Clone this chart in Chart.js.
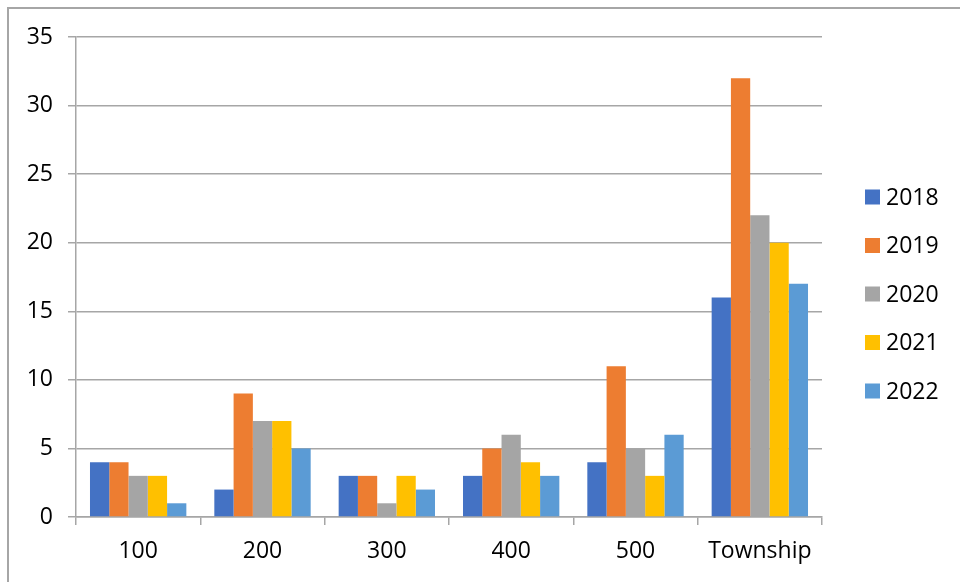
<!DOCTYPE html>
<html>
<head>
<meta charset="utf-8">
<script src="https://cdn.jsdelivr.net/npm/chart.js@4/dist/chart.umd.min.js"></script>
<style>
  html, body { margin: 0; padding: 0; background: #fff; }
  #wrap { position: relative; width: 960px; height: 582px; overflow: hidden; }
  #frame { position: absolute; left: 7px; top: 7px; width: 1000px; height: 1000px;
           border-left: 2px solid #a6a6a6; border-top: 2px solid #a6a6a6; box-sizing: border-box; }
  canvas { position: absolute; left: 0; top: 0; }
</style>
</head>
<body>
<div id="wrap">
  <div id="frame"></div>
  <canvas id="chart" width="960" height="582"></canvas>
</div>
<script>
// Data
const categories = ['100', '200', '300', '400', '500', 'Township'];
const years = ['2018', '2019', '2020', '2021', '2022'];
const values2018 = [4, 2, 3, 3, 4, 16];
const values2019 = [4, 9, 3, 5, 11, 32];
const values2020 = [3, 7, 1, 6, 5, 22];
const values2021 = [3, 7, 3, 4, 3, 20];
const values2022 = [1, 5, 2, 3, 6, 17];
const yTicks = [0, 5, 10, 15, 20, 25, 30, 35];

const seriesValues = [values2018, values2019, values2020, values2021, values2022];
const colors = ['#4472C4', '#ED7D31', '#A5A5A5', '#FFC000', '#5B9BD5'];
const gridColor = '#a6a6a6';
const fontFamily = "'Open Sans', 'Liberation Sans', sans-serif";
const fontSize = 23;

const datasets = years.map((year, i) => ({
    label: year,
    data: seriesValues[i],
    backgroundColor: colors[i],
    borderWidth: 0,
    barPercentage: 1.0,
    categoryPercentage: 0.775
}));

// Legend on the right, Excel style: small squares with the year beside them
const sideLegend = {
    id: 'sideLegend',
    afterDraw(chart) {
        const ctx = chart.ctx;
        ctx.save();
        ctx.font = fontSize + 'px ' + fontFamily;
        ctx.textBaseline = 'middle';
        chart.data.datasets.forEach((ds, i) => {
            const y = 197 + i * 48.5;
            ctx.fillStyle = ds.backgroundColor;
            ctx.fillRect(865, y - 7.5, 15, 15);
            ctx.fillStyle = '#000';
            ctx.fillText(ds.label, 886, y + 1);
        });
        ctx.restore();
    }
};

new Chart(document.getElementById('chart'), {
    type: 'bar',
    data: { labels: categories, datasets: datasets },
    plugins: [sideLegend],
    options: {
        responsive: false,
        animation: false,
        devicePixelRatio: 1,
        layout: { padding: { top: 37, right: 138, bottom: 0, left: 0 } },
        plugins: {
            tooltip: { enabled: false },
            legend: { display: false }
        },
        scales: {
            x: {
                afterFit: scale => { scale.height = 65; },
                grid: {
                    offset: true,
                    drawOnChartArea: false,
                    drawTicks: true,
                    tickLength: 8,
                    color: gridColor,
                    lineWidth: 1.5
                },
                border: { color: gridColor, width: 1.5 },
                ticks: {
                    color: '#000',
                    font: { family: fontFamily, size: fontSize },
                    padding: 13,
                    maxRotation: 0
                }
            },
            y: {
                min: 0,
                max: 35,
                afterFit: scale => { scale.width = 76; },
                afterBuildTicks: scale => { scale.ticks = yTicks.map(v => ({ value: v })); },
                grid: {
                    color: gridColor,
                    lineWidth: 1.5,
                    tickLength: 8
                },
                border: { color: gridColor, width: 1.5 },
                ticks: {
                    color: '#000',
                    font: { family: fontFamily, size: fontSize },
                    padding: 15
                }
            }
        }
    }
});
</script>
</body>
</html>
